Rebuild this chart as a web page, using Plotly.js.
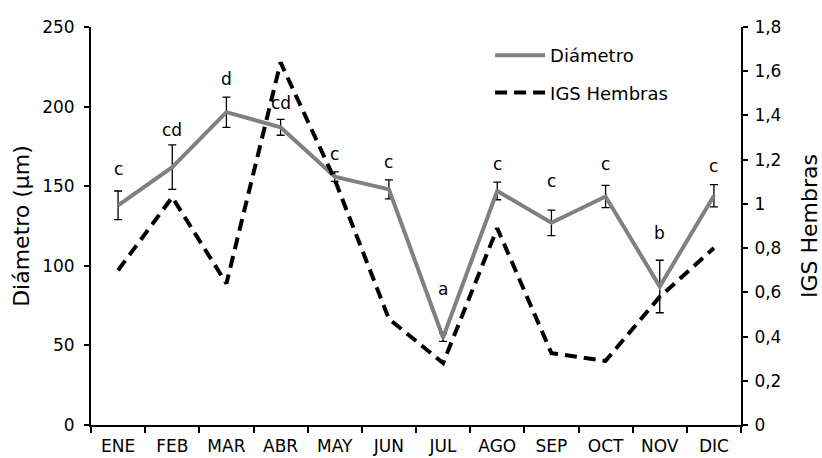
<!DOCTYPE html>
<html>
<head>
<meta charset="utf-8">
<script src="https://cdn.plot.ly/plotly-3.0.1.min.js"></script>
<style>
  html, body { margin: 0; padding: 0; background: #fff; }
  #chart { width: 822px; height: 458px; }
</style>
</head>
<body>
<div id="chart"></div>
<script>
// ---- data ----
const months = ["ENE","FEB","MAR","ABR","MAY","JUN","JUL","AGO","SEP","OCT","NOV","DIC"];
const diametro = [138, 162, 196.5, 187, 156, 148, 55, 147, 127, 143.5, 87, 144];
const diametroErr = [9, 14, 9.5, 5, 3, 6, 2.5, 5.5, 8, 7, 16.5, 7];
const igsHembras = [0.70, 1.03, 0.64, 1.64, 1.11, 0.48, 0.28, 0.89, 0.325, 0.29, 0.58, 0.80];
const letters = ["c","cd","d","cd","c","c","a","c","c","c","b","c"];
const letterY = [161, 185, 217.5, 202, 170.5, 165.5, 85.5, 164, 153, 164, 120.5, 163];

const FONT = "DejaVu Sans, Verdana, sans-serif";

const traces = [
  {
    x: months, y: diametro, name: "Diámetro", type: "scatter", mode: "lines",
    legendgroup: "a",
    line: { color: "#808080", width: 4 },
    error_y: { type: "data", array: diametroErr, visible: true, color: "#000", thickness: 1.3, width: 4 },
    yaxis: "y"
  },
  {
    x: months, y: igsHembras, name: "IGS Hembras", type: "scatter", mode: "lines",
    legendgroup: "b",
    line: { color: "#000", width: 4, dash: "12px,7px" },
    yaxis: "y2"
  }
];

const annotations = months.map((m, i) => ({
  x: m, y: letterY[i], xref: "x", yref: "y", text: letters[i], showarrow: false,
  font: { family: FONT, size: 17, color: "#000" }, yanchor: "middle"
}));

const layout = {
  width: 822, height: 458,
  margin: { l: 91, r: 81, t: 27, b: 33 },
  paper_bgcolor: "#fff", plot_bgcolor: "#fff",
  separators: ",.",
  font: { family: FONT, color: "#000", size: 17 },
  showlegend: true,
  legend: {
    x: 0.614, y: 0.975, xanchor: "left", yanchor: "top",
    bgcolor: "rgba(0,0,0,0)", font: { family: FONT, size: 18, color: "#000" },
    traceorder: "grouped", tracegroupgap: 11, itemwidth: 50
  },
  xaxis: {
    type: "category", range: [-0.5, 11.5], showgrid: false, zeroline: false,
    showline: true, linecolor: "#000", linewidth: 2,
    ticks: "outside", ticklen: 6, tickwidth: 2, tickcolor: "#000", tickson: "boundaries",
    ticklabelstandoff: 5,
    tickfont: { family: FONT, size: 17, color: "#000" }
  },
  yaxis: {
    range: [0, 250], dtick: 50, showgrid: false, zeroline: false,
    showline: true, linecolor: "#000", linewidth: 2,
    ticks: "outside", ticklen: 5, tickwidth: 2, tickcolor: "#000",
    ticklabelstandoff: 6,
    tickfont: { family: FONT, size: 17, color: "#000" },
    title: { text: "Diámetro (µm)", font: { family: FONT, size: 22, color: "#000" }, standoff: 6 }
  },
  yaxis2: {
    overlaying: "y", side: "right", range: [0, 1.8], dtick: 0.2, showgrid: false, zeroline: false,
    showline: true, linecolor: "#000", linewidth: 2,
    ticks: "outside", ticklen: 5, tickwidth: 2, tickcolor: "#000",
    ticklabelstandoff: 3,
    tickfont: { family: FONT, size: 17, color: "#000" },
    title: { text: "IGS Hembras", font: { family: FONT, size: 22, color: "#000" }, standoff: 22 }
  },
  annotations: annotations
};

Plotly.newPlot("chart", traces, layout, { displayModeBar: false, staticPlot: true });
</script>
</body>
</html>
